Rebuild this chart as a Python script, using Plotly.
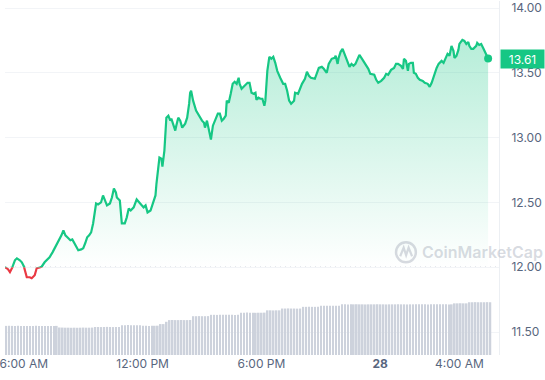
import plotly.graph_objects as go
import pandas as pd

# ---------------- data ----------------
price_times = [
    "27 05:03", "27 05:12", "27 05:18", "27 05:24", "27 05:33", "27 05:39", "27 05:48", "27 05:54",
    "27 06:00", "27 06:06", "27 06:09", "27 06:18", "27 06:24", "27 06:33", "27 06:39", "27 06:48", "27 06:54",
    "27 07:03", "27 07:12", "27 07:18", "27 07:27", "27 07:39", "27 07:48", "27 07:54",
    "27 08:00", "27 08:06", "27 08:12", "27 08:21", "27 08:27", "27 08:33", "27 08:39", "27 08:45", "27 08:54",
    "27 09:00", "27 09:06", "27 09:12", "27 09:18", "27 09:24", "27 09:30", "27 09:39", "27 09:45", "27 09:54",
    "27 10:00", "27 10:06", "27 10:12", "27 10:21", "27 10:27", "27 10:33", "27 10:39", "27 10:42", "27 10:51", "27 10:57",
    "27 11:06", "27 11:12", "27 11:18", "27 11:24", "27 11:33", "27 11:42", "27 11:54",
    "27 12:03", "27 12:09", "27 12:15", "27 12:24", "27 12:30", "27 12:39", "27 12:42", "27 12:48", "27 12:51", "27 12:57",
    "27 13:00", "27 13:06", "27 13:09", "27 13:12", "27 13:18", "27 13:24", "27 13:27", "27 13:33", "27 13:39", "27 13:42", "27 13:48", "27 13:54",
    "27 14:00", "27 14:09", "27 14:15", "27 14:21", "27 14:24", "27 14:27", "27 14:33", "27 14:42", "27 14:54",
    "27 15:00", "27 15:06", "27 15:09", "27 15:15", "27 15:21", "27 15:24", "27 15:27", "27 15:33", "27 15:42", "27 15:48", "27 15:54",
    "27 16:00", "27 16:06", "27 16:12", "27 16:15", "27 16:21", "27 16:27", "27 16:33", "27 16:39", "27 16:45", "27 16:51", "27 16:54",
    "27 17:00", "27 17:12", "27 17:18", "27 17:24", "27 17:30", "27 17:36", "27 17:42", "27 17:45", "27 17:51", "27 17:57",
    "27 18:03", "27 18:09", "27 18:12", "27 18:18", "27 18:24", "27 18:30", "27 18:36", "27 18:42", "27 18:48", "27 18:57",
    "27 19:06", "27 19:12", "27 19:18", "27 19:24", "27 19:30", "27 19:39", "27 19:42", "27 19:51", "27 19:57",
    "27 20:03", "27 20:12", "27 20:18", "27 20:24", "27 20:30", "27 20:42", "27 20:48", "27 20:54",
    "27 21:03", "27 21:09", "27 21:18", "27 21:24", "27 21:33", "27 21:42", "27 21:45", "27 21:51", "27 21:54",
    "27 22:00", "27 22:06", "27 22:12", "27 22:15", "27 22:24", "27 22:27", "27 22:33", "27 22:39", "27 22:45", "27 22:51", "27 22:57",
    "27 23:03", "27 23:12", "27 23:18", "27 23:24", "27 23:30", "27 23:42", "27 23:48", "27 23:54",
    "28 00:03", "28 00:12", "28 00:18", "28 00:24", "28 00:33", "28 00:42", "28 00:48", "28 00:54",
    "28 01:03", "28 01:09", "28 01:12", "28 01:18", "28 01:24", "28 01:27", "28 01:33", "28 01:39", "28 01:42", "28 01:48", "28 01:54",
    "28 02:00", "28 02:09", "28 02:15", "28 02:24", "28 02:30", "28 02:36", "28 02:42", "28 02:51", "28 02:57",
    "28 03:06", "28 03:12", "28 03:18", "28 03:24", "28 03:30", "28 03:36", "28 03:42", "28 03:45", "28 03:51", "28 03:57",
    "28 04:00", "28 04:09", "28 04:15", "28 04:21", "28 04:27", "28 04:30", "28 04:36", "28 04:42", "28 04:51", "28 04:54",
    "28 05:00", "28 05:06", "28 05:12", "28 05:18", "28 05:24", "28 05:27",
]

prices = [
    12.000, 11.985, 11.962, 11.992, 12.054, 12.069, 12.054, 12.038,
    12.008, 11.954, 11.923, 11.923, 11.915, 11.938, 11.992, 11.998, 12.004,
    12.038, 12.062, 12.077, 12.115, 12.169, 12.208, 12.246,
    12.285, 12.246, 12.231, 12.208, 12.215, 12.185, 12.162, 12.131, 12.138,
    12.146, 12.185, 12.231, 12.246, 12.269, 12.338, 12.492, 12.485, 12.500,
    12.554, 12.515, 12.477, 12.492, 12.538, 12.608, 12.577, 12.538, 12.515, 12.338,
    12.338, 12.385, 12.454, 12.438, 12.462, 12.523, 12.492,
    12.462, 12.477, 12.423, 12.438, 12.492, 12.554, 12.646, 12.762, 12.846, 12.838,
    12.777, 12.900, 13.038, 13.154, 13.169, 13.131, 13.146, 13.092, 13.054, 13.092, 13.154, 13.131,
    13.077, 13.108, 13.154, 13.262, 13.346, 13.362, 13.285, 13.208, 13.154,
    13.131, 13.115, 13.077, 13.131, 13.069, 13.031, 12.985, 13.092, 13.154, 13.185, 13.185,
    13.131, 13.146, 13.169, 13.285, 13.269, 13.338, 13.415, 13.431, 13.415, 13.462, 13.415,
    13.377, 13.408, 13.423, 13.423, 13.346, 13.338, 13.346, 13.292, 13.308, 13.300,
    13.300, 13.246, 13.285, 13.515, 13.623, 13.608, 13.623, 13.577, 13.515, 13.462,
    13.415, 13.415, 13.362, 13.285, 13.262, 13.285, 13.346, 13.338, 13.377,
    13.415, 13.454, 13.508, 13.477, 13.462, 13.454, 13.500, 13.538,
    13.546, 13.531, 13.500, 13.569, 13.608, 13.615, 13.631, 13.569, 13.615,
    13.662, 13.685, 13.646, 13.638, 13.577, 13.546, 13.569, 13.554, 13.569, 13.608, 13.638,
    13.615, 13.577, 13.554, 13.531, 13.492, 13.485, 13.446, 13.423,
    13.438, 13.462, 13.492, 13.485, 13.523, 13.538, 13.569, 13.569,
    13.554, 13.531, 13.608, 13.592, 13.515, 13.569, 13.577, 13.577, 13.500, 13.492, 13.462,
    13.446, 13.438, 13.423, 13.415, 13.392, 13.423, 13.477, 13.538, 13.569,
    13.592, 13.577, 13.608, 13.646, 13.631, 13.708, 13.669, 13.615, 13.631, 13.677,
    13.723, 13.754, 13.746, 13.723, 13.738, 13.708, 13.685, 13.685, 13.708, 13.731,
    13.715, 13.723, 13.692, 13.654, 13.631, 13.610,
]

volume_start = "2023-11-27 05:07"
volume_step_min = 9
volume = [
    2.92, 2.93, 2.92, 2.91, 2.93, 2.92, 2.92, 2.90, 2.91, 2.92, 2.93, 2.92, 2.91, 2.92, 2.92, 2.90, 2.91, 2.92,
    2.76, 2.75, 2.74, 2.74, 2.73, 2.74, 2.73, 2.74, 2.75, 2.74, 2.74, 2.75,
    2.81, 2.81, 2.80, 2.81, 2.82, 2.81, 2.80, 2.81, 2.82,
    2.99, 2.99, 3.00, 2.99, 2.98, 2.99, 2.99,
    2.93, 2.93, 2.92, 2.93, 2.93, 2.94,
    3.10, 3.10,
    3.33,
    3.50, 3.51, 3.50, 3.50, 3.51, 3.50, 3.50, 3.51,
    3.89, 3.89, 3.90, 3.89, 3.89, 3.90,
    4.03, 4.03, 4.02, 4.03, 4.03, 4.04, 4.03, 4.03, 4.02, 4.03,
    4.24, 4.24, 4.25, 4.24, 4.24, 4.23, 4.24, 4.24, 4.25,
    4.48, 4.48, 4.47, 4.48, 4.48,
    4.66, 4.66, 4.67, 4.66, 4.66, 4.65, 4.66,
    4.83, 4.83, 4.84, 4.83, 4.83, 4.83,
    4.94, 4.94, 4.95, 4.94, 4.94, 4.93, 4.94,
    5.08, 5.08, 5.07, 5.08, 5.08, 5.09, 5.08, 5.08, 5.07, 5.08,
    5.08, 5.08, 5.09, 5.08, 5.08, 5.07, 5.08, 5.08, 5.08, 5.09,
    5.08, 5.08, 5.07, 5.08, 5.08, 5.08, 5.09, 5.08, 5.08, 5.07,
    5.08, 5.08, 5.08, 5.09, 5.08, 5.08, 5.07, 5.08,
    5.18, 5.18, 5.19, 5.18, 5.18,
    5.29, 5.29, 5.30, 5.29, 5.29, 5.29, 5.30, 5.29,
]

tick_vals = ["2023-11-27 06:00", "2023-11-27 12:00", "2023-11-27 18:00", "2023-11-28 00:00", "2023-11-28 04:00"]
tick_text = ["6:00 AM", "12:00 PM", "6:00 PM", "<b>28</b>", "4:00 AM"]
price_ticks = [11.5, 12.0, 12.5, 13.0, 13.5, 14.0]
open_price = 12.00
last_label = "13.61"

# ---------------- build ----------------
assert len(price_times) == len(prices)
DAYS = {"27": "2023-11-27", "28": "2023-11-28"}
x_price = [pd.Timestamp(f"{DAYS[t[:2]]} {t[3:]}") for t in price_times]
x_vol = pd.date_range(volume_start, periods=len(volume), freq=f"{volume_step_min}min")

GREEN = "#16c784"
RED = "#ea3943"
TXT = "#58667e"
FONT = "Inter, 'Noto Sans', sans-serif"

Y_MIN, Y_MAX = 11.323, 14.054
split = (open_price - Y_MIN) / (Y_MAX - Y_MIN)

fig = go.Figure()
fig.add_trace(go.Bar(
    x=x_vol, y=volume, yaxis="y2",
    marker=dict(color="#cdd2dc", line_width=0),
    width=5 * 60 * 1000, hoverinfo="skip", showlegend=False,
))
fig.add_trace(go.Scatter(
    x=x_price, y=prices, yaxis="y4", mode="lines",
    line=dict(color=GREEN, width=2.2),
    fill="tozeroy",
    fillgradient=dict(type="vertical", start=open_price, stop=13.8,
                      colorscale=[[0, "rgba(22,199,132,0)"], [1, "rgba(22,199,132,0.32)"]]),
    showlegend=False,
))
fig.add_trace(go.Scatter(
    x=x_price, y=prices, yaxis="y3", mode="lines",
    line=dict(color=RED, width=2.2), showlegend=False,
))
fig.add_trace(go.Scatter(
    x=[x_price[-1]], y=[prices[-1]], yaxis="y", mode="markers",
    marker=dict(color=GREEN, size=8), cliponaxis=False, showlegend=False,
))

fig.add_shape(type="line", xref="paper", yref="y", x0=0, x1=1, y0=open_price, y1=open_price,
              line=dict(color="#9aa3b2", width=1, dash="1px,4px"), layer="below")

# watermark
WM = "rgba(160,168,182,0.42)"
fig.add_shape(type="circle", xref="paper", yref="paper",
              x0=0.7916, x1=0.8317, y0=0.2620, y1=0.3183,
              line=dict(color=WM, width=2.5))
fig.add_shape(type="path", xref="paper", yref="paper",
              path="M 0.8000,0.2790 L 0.8070,0.3030 L 0.8120,0.2820 L 0.8170,0.3030 L 0.8240,0.2790",
              line=dict(color=WM, width=2.2))
fig.add_annotation(text="CoinMarketCap", xref="paper", yref="paper", x=0.8397, y=0.2900,
                   xanchor="left", yanchor="middle", showarrow=False,
                   font=dict(family=FONT, size=16, color=WM, weight=600))

fig.add_annotation(text=last_label, xref="paper", yref="y", x=1, y=prices[-1],
                   xanchor="left", yanchor="middle", xshift=1, showarrow=False,
                   bgcolor=GREEN, width=40, height=15, borderpad=1.5,
                   font=dict(family=FONT, size=12, color="white"))

fig.update_layout(
    width=545, height=380, autosize=False,
    margin=dict(l=0, r=46, t=0, b=25),
    paper_bgcolor="white", plot_bgcolor="rgba(0,0,0,0)",
    font=dict(family=FONT, size=12, color=TXT),
    showlegend=False,
    xaxis=dict(range=["2023-11-27 05:03", "2023-11-28 06:00"], tickvals=tick_vals, ticktext=tick_text,
               showgrid=False, zeroline=False, ticks="", ticklen=0, showline=False,
               ticklabeloverflow="allow",
               tickfont=dict(size=12, color=TXT), fixedrange=True),
    yaxis=dict(range=[Y_MIN, Y_MAX], side="right", tickvals=price_ticks, tickformat=".2f",
               showgrid=True, gridcolor="#f2f4f7", gridwidth=1, zeroline=False,
               showline=True, linecolor="#eceff3", ticks="", ticklabelstandoff=9,
               ticklabeloverflow="allow",
               tickfont=dict(size=12, color=TXT), anchor="x"),
    yaxis2=dict(range=[0, 35.5], overlaying="y", visible=False),
    yaxis3=dict(domain=[0, split], range=[Y_MIN, open_price], visible=False, anchor="x"),
    yaxis4=dict(domain=[split, 1], range=[open_price, Y_MAX], visible=False, anchor="x"),
)

fig.write_html("out.html",
               config={"displayModeBar": False},
               post_script="document.body.style.margin='0';document.body.style.overflow='hidden';")
